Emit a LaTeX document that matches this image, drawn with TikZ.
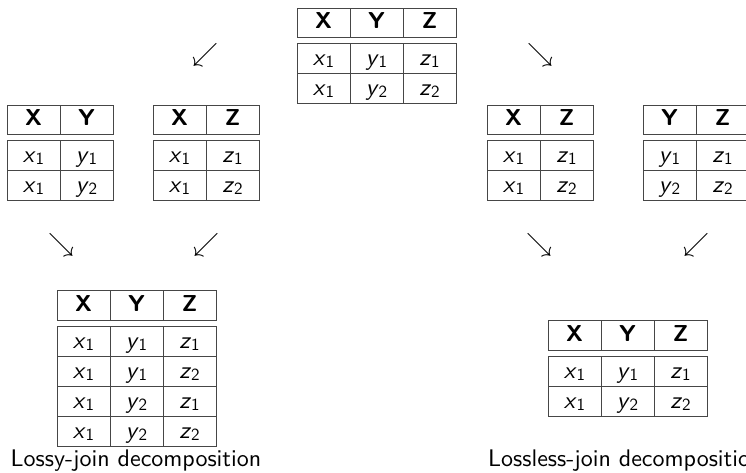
\RequirePackage{fix-cm}
\documentclass[tikz,border=0pt]{standalone}
\usepackage{fontspec}
\setsansfont{lmsans10-regular.otf}[BoldFont=lmsans10-bold.otf, ItalicFont=lmsans10-oblique.otf, BoldItalicFont=lmsans10-boldoblique.otf]
\definecolor{linecol}{RGB}{70,70,70}
\newcommand\vv[2]{\textit{#1}\raisebox{-2pt}{\fontsize{17}{17}\selectfont #2}}
\tikzset{
  hcell/.style={draw=linecol, line width=1pt, minimum width=53pt, minimum height=29.5pt,
    text height=11.5pt, text depth=0pt,
    inner sep=0pt, outer sep=0pt, anchor=north west, font=\fontsize{23}{23}\selectfont\sffamily\bfseries},
  bcell/.style={draw=linecol, line width=1pt, minimum width=53pt, minimum height=30pt,
    text height=14.5pt, text depth=0pt,
    inner sep=0pt, outer sep=0pt, anchor=north west, font=\fontsize{24}{24}\selectfont\sffamily},
  arr/.style={inner sep=0pt, font=\fontsize{26}{26}\selectfont},
  lab/.style={inner sep=0pt, anchor=base west, font=\fontsize{24}{24}\selectfont\sffamily}
}
\newcommand\rtab[5]{%
  \foreach \h [count=\i] in {#4} \node[hcell] (#1h\i) at ({#2+(\i-1)*53},#3) {\h};
  \foreach \r [count=\j] in {#5} {
    \foreach \c [count=\i] in \r
      \node[bcell] (#1r\j c\i) at ({#2+(\i-1)*53},{#3+35.5+(\j-1)*30}) {\c};
  }%
}
\begin{document}
\begin{tikzpicture}[x=1pt,y=-1pt]
\useasboundingbox (0,0) rectangle (746,472);
\clip (0,0) rectangle (746,472);
% top table
\rtab{t}{297}{8}{X,Y,Z}{{\vv x1,\vv y1,\vv z1},{\vv x1,\vv y2,\vv z2}}
% left decomposition
\rtab{a}{7}{105}{X,Y}{{\vv x1,\vv y1},{\vv x1,\vv y2}}
\rtab{b}{153}{105}{X,Z}{{\vv x1,\vv z1},{\vv x1,\vv z2}}
% right decomposition
\rtab{c}{487}{105}{X,Z}{{\vv x1,\vv z1},{\vv x1,\vv z2}}
\rtab{d}{643}{105}{Y,Z}{{\vv y1,\vv z1},{\vv y2,\vv z2}}
% joins
\rtab{e}{57}{290.5}{X,Y,Z}{{\vv x1,\vv y1,\vv z1},{\vv x1,\vv y1,\vv z2},{\vv x1,\vv y2,\vv z1},{\vv x1,\vv y2,\vv z2}}
\rtab{f}{548}{320.5}{X,Y,Z}{{\vv x1,\vv y1,\vv z1},{\vv x1,\vv y2,\vv z2}}
% arrows
\node[arr] (a1) at (205,55) {$\swarrow$};
\node[arr] (a2) at (540,55) {$\searrow$};
\node[arr] (a3) at (61,245) {$\searrow$};
\node[arr] (a4) at (206,245) {$\swarrow$};
\node[arr] (a5) at (539,245) {$\searrow$};
\node[arr] (a6) at (696,245) {$\swarrow$};
% labels
\node[lab] (l1) at (10.5,466.7) {Lossy-join decomposition};
\node[lab] (l2) at (488,466.7) {Lossless-join decomposition};
\end{tikzpicture}
\end{document}
